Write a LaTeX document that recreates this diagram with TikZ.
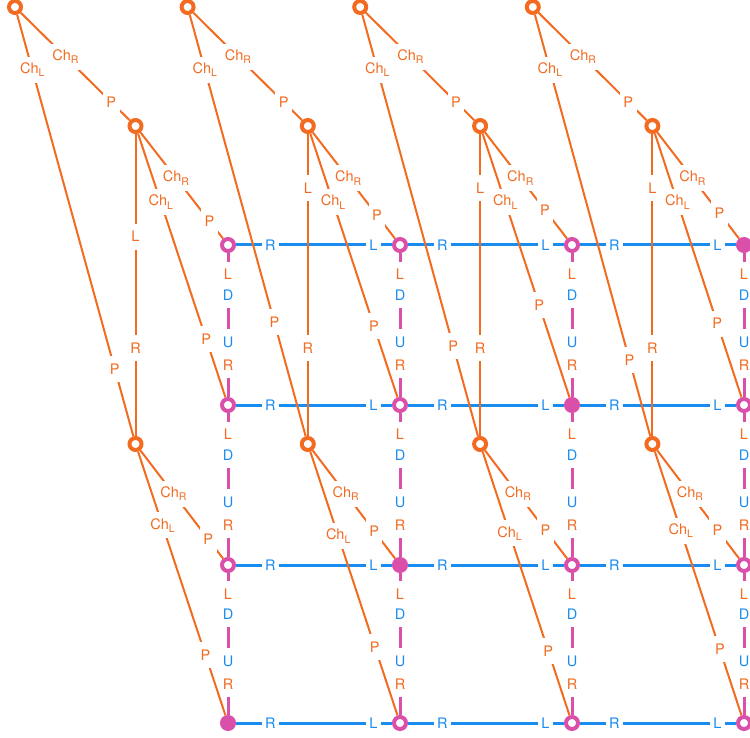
\documentclass[tikz,border=0pt]{standalone}
\usepackage{fontspec}
\setmainfont{TeX Gyre Heros}
\definecolor{treeorange}{HTML}{F26B21}
\definecolor{gridpink}{HTML}{D94FAA}
\definecolor{gridblue}{HTML}{1A8CF0}
\newcommand\chsub[1]{\raisebox{-3.5pt}{\fontsize{10.5}{10.5}\selectfont#1}}
\begin{document}
\begin{tikzpicture}[x=1pt,y=-1pt,
  ring/.style={circle,line width=4pt,minimum size=12pt,inner sep=0pt,fill=white},
  tnode/.style={ring,draw=treeorange},
  gnode/.style={ring,draw=gridpink},
  tree/.style={draw=treeorange,line width=2pt},
  across/.style={draw=gridblue,line width=3pt},
  down/.style={draw=gridpink,line width=3pt},
  lab/.style={fill=white,inner xsep=3.5pt,inner ysep=0pt,minimum height=26pt,font=\fontsize{14.5}{16}\selectfont},
  olab/.style={lab,text=treeorange},
  blab/.style={lab,text=gridblue}]
\useasboundingbox (0,0) rectangle (750,738);
\clip (0,0) rectangle (750,738);
% nodes
\foreach \i in {0,...,3}{
  \node[tnode] (t\i) at (15+172.6*\i,7) {};
  \node[tnode] (m\i) at (135.5+172.3*\i,126) {};
  \node[tnode] (b\i) at (135.5+172.3*\i,444) {};
  \foreach \r/\y in {0/245,1/405,2/565,3/723}{
    \pgfmathtruncatemacro\s{\i+\r}
    \ifnum\s=3 \def\fc{gridpink}\else\def\fc{white}\fi
    \node[gnode,fill=\fc] (g\i\r) at (228+172*\i,\y) {};
  }
}
% grid
\foreach \i/\j in {0/1,1/2,2/3}
  \foreach \r in {0,...,3}
    \draw[across] (g\i\r) -- node[blab,pos=.22]{R} node[blab,pos=.88]{L} (g\j\r);
\foreach \i in {0,...,3}
  \foreach \r/\s in {0/1,1/2,2/3}
    \draw[down] (g\i\r) -- node[olab,pos=.15]{L} node[blab,pos=.29]{D}
      node[blab,pos=.62]{U} node[olab,pos=.78]{R} (g\i\s);
% trees
\foreach \i/\pb/\pl/\pc/\pd/\pe/\pf/\pg in {0/.84/.34/.835/.78/.82/.28/.77,
    1/.73/.18/.78/.73/.745/.32/.74, 2/.786/.18/.73/.65/.735/.31/.755,
    3/.82/.18/.76/.72/.735/.30/.75}{
  \draw[tree] (t\i) -- node[olab,pos=.41]{Ch\chsub{R}} node[olab,pos=.83]{P} (m\i);
  \draw[tree] (t\i) -- node[olab,pos=.13]{Ch\chsub{L}} node[olab,pos=\pb]{P} (b\i);
  \draw[tree] (m\i) -- node[olab,pos=\pl]{L} node[olab,pos=.71]{R} (b\i);
  \draw[tree] (m\i) -- node[olab,pos=.43]{Ch\chsub{R}} node[olab,pos=\pc]{P} (g\i0);
  \draw[tree] (m\i) -- node[olab,pos=.26]{Ch\chsub{L}} node[olab,pos=\pd]{P} (g\i1);
  \draw[tree] (b\i) -- node[olab,pos=.40]{Ch\chsub{R}} node[olab,pos=\pe]{P} (g\i2);
  \draw[tree] (b\i) -- node[olab,pos=\pf]{Ch\chsub{L}} node[olab,pos=\pg]{P} (g\i3);
}
\end{tikzpicture}
\end{document}
